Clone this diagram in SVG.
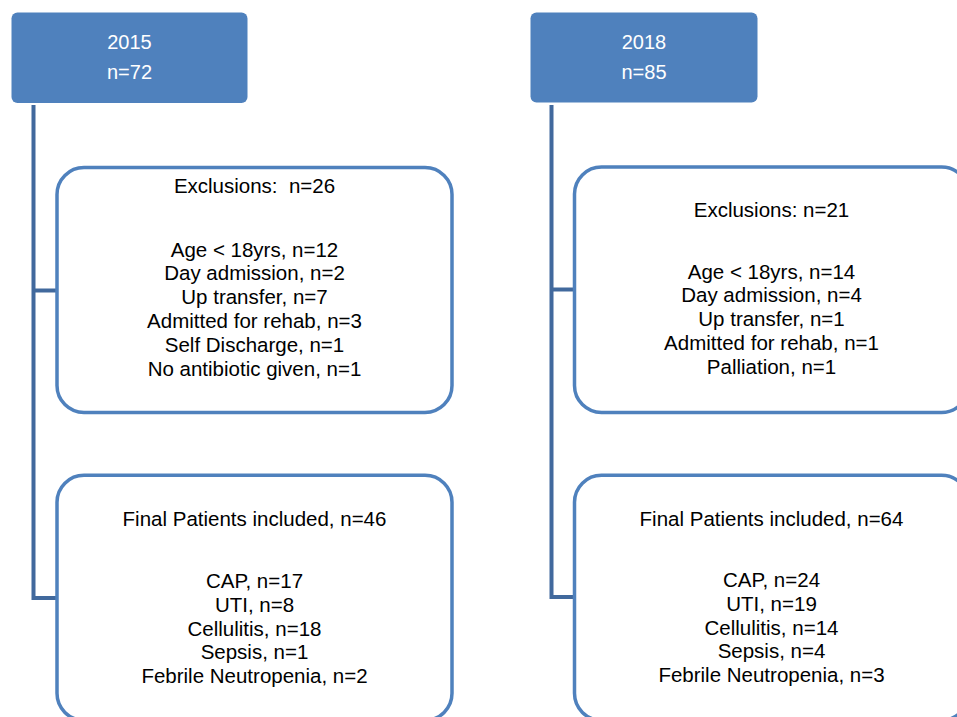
<svg xmlns="http://www.w3.org/2000/svg" width="957" height="717" viewBox="0 0 957 717">
<style>
.hdr{fill:#4F81BD;}
.hdrtxt{font-family:"Liberation Sans",Arial,sans-serif;font-size:20px;fill:#FFFFFF;text-anchor:middle;}
.box{fill:#FFFFFF;stroke:#4F81BD;stroke-width:3.5;}
.txt{font-family:"Liberation Sans",Arial,sans-serif;font-size:20.5px;fill:#000000;text-anchor:middle;}
.conn{fill:none;stroke:#41699D;stroke-width:4;}
</style>
<rect width="957" height="717" fill="#FFFFFF"/>
<g id="connectors">
<path class="conn" d="M33.5,105 V598 H57"/>
<path class="conn" d="M33.5,290.5 H57"/>
<path class="conn" d="M551.5,105 V597 H574.5"/>
<path class="conn" d="M551.5,289.5 H574.5"/>
</g>
<g id="header2015">
<rect class="hdr" x="11.5" y="12.5" width="236" height="90.5" rx="6"/>
<text class="hdrtxt" x="129.5" y="49">2015</text>
<text class="hdrtxt" x="129.5" y="78.5">n=72</text>
</g>
<g id="header2018">
<rect class="hdr" x="530.5" y="12.5" width="227" height="90" rx="6"/>
<text class="hdrtxt" x="644" y="49">2018</text>
<text class="hdrtxt" x="644" y="78.5">n=85</text>
</g>
<g id="exclusions2015">
<rect class="box" x="57" y="167.5" width="395" height="245" rx="27"/>
<text class="txt" x="254.5" y="193">Exclusions:&#160; n=26</text>
<text class="txt" x="254.5" y="256.5">Age &lt; 18yrs, n=12</text>
<text class="txt" x="254.5" y="280.3">Day admission, n=2</text>
<text class="txt" x="254.5" y="304.1">Up transfer, n=7</text>
<text class="txt" x="254.5" y="327.9">Admitted for rehab, n=3</text>
<text class="txt" x="254.5" y="351.7">Self Discharge, n=1</text>
<text class="txt" x="254.5" y="375.5">No antibiotic given, n=1</text>
</g>
<g id="exclusions2018">
<rect class="box" x="574.5" y="167" width="394" height="245.5" rx="27"/>
<text class="txt" x="771.5" y="217">Exclusions: n=21</text>
<text class="txt" x="771.5" y="278.5">Age &lt; 18yrs, n=14</text>
<text class="txt" x="771.5" y="302.3">Day admission, n=4</text>
<text class="txt" x="771.5" y="326.1">Up transfer, n=1</text>
<text class="txt" x="771.5" y="349.9">Admitted for rehab, n=1</text>
<text class="txt" x="771.5" y="373.7">Palliation, n=1</text>
</g>
<g id="final2015">
<rect class="box" x="57" y="475.3" width="395" height="245" rx="27"/>
<text class="txt" x="254.5" y="526">Final Patients included, n=46</text>
<text class="txt" x="254.5" y="588">CAP, n=17</text>
<text class="txt" x="254.5" y="611.8">UTI, n=8</text>
<text class="txt" x="254.5" y="635.6">Cellulitis, n=18</text>
<text class="txt" x="254.5" y="659.4">Sepsis, n=1</text>
<text class="txt" x="254.5" y="683.2">Febrile Neutropenia, n=2</text>
</g>
<g id="final2018">
<rect class="box" x="574.5" y="475.3" width="394" height="245" rx="27"/>
<text class="txt" x="771.5" y="525.5">Final Patients included, n=64</text>
<text class="txt" x="771.5" y="587">CAP, n=24</text>
<text class="txt" x="771.5" y="610.8">UTI, n=19</text>
<text class="txt" x="771.5" y="634.6">Cellulitis, n=14</text>
<text class="txt" x="771.5" y="658.4">Sepsis, n=4</text>
<text class="txt" x="771.5" y="682.2">Febrile Neutropenia, n=3</text>
</g>
</svg>
